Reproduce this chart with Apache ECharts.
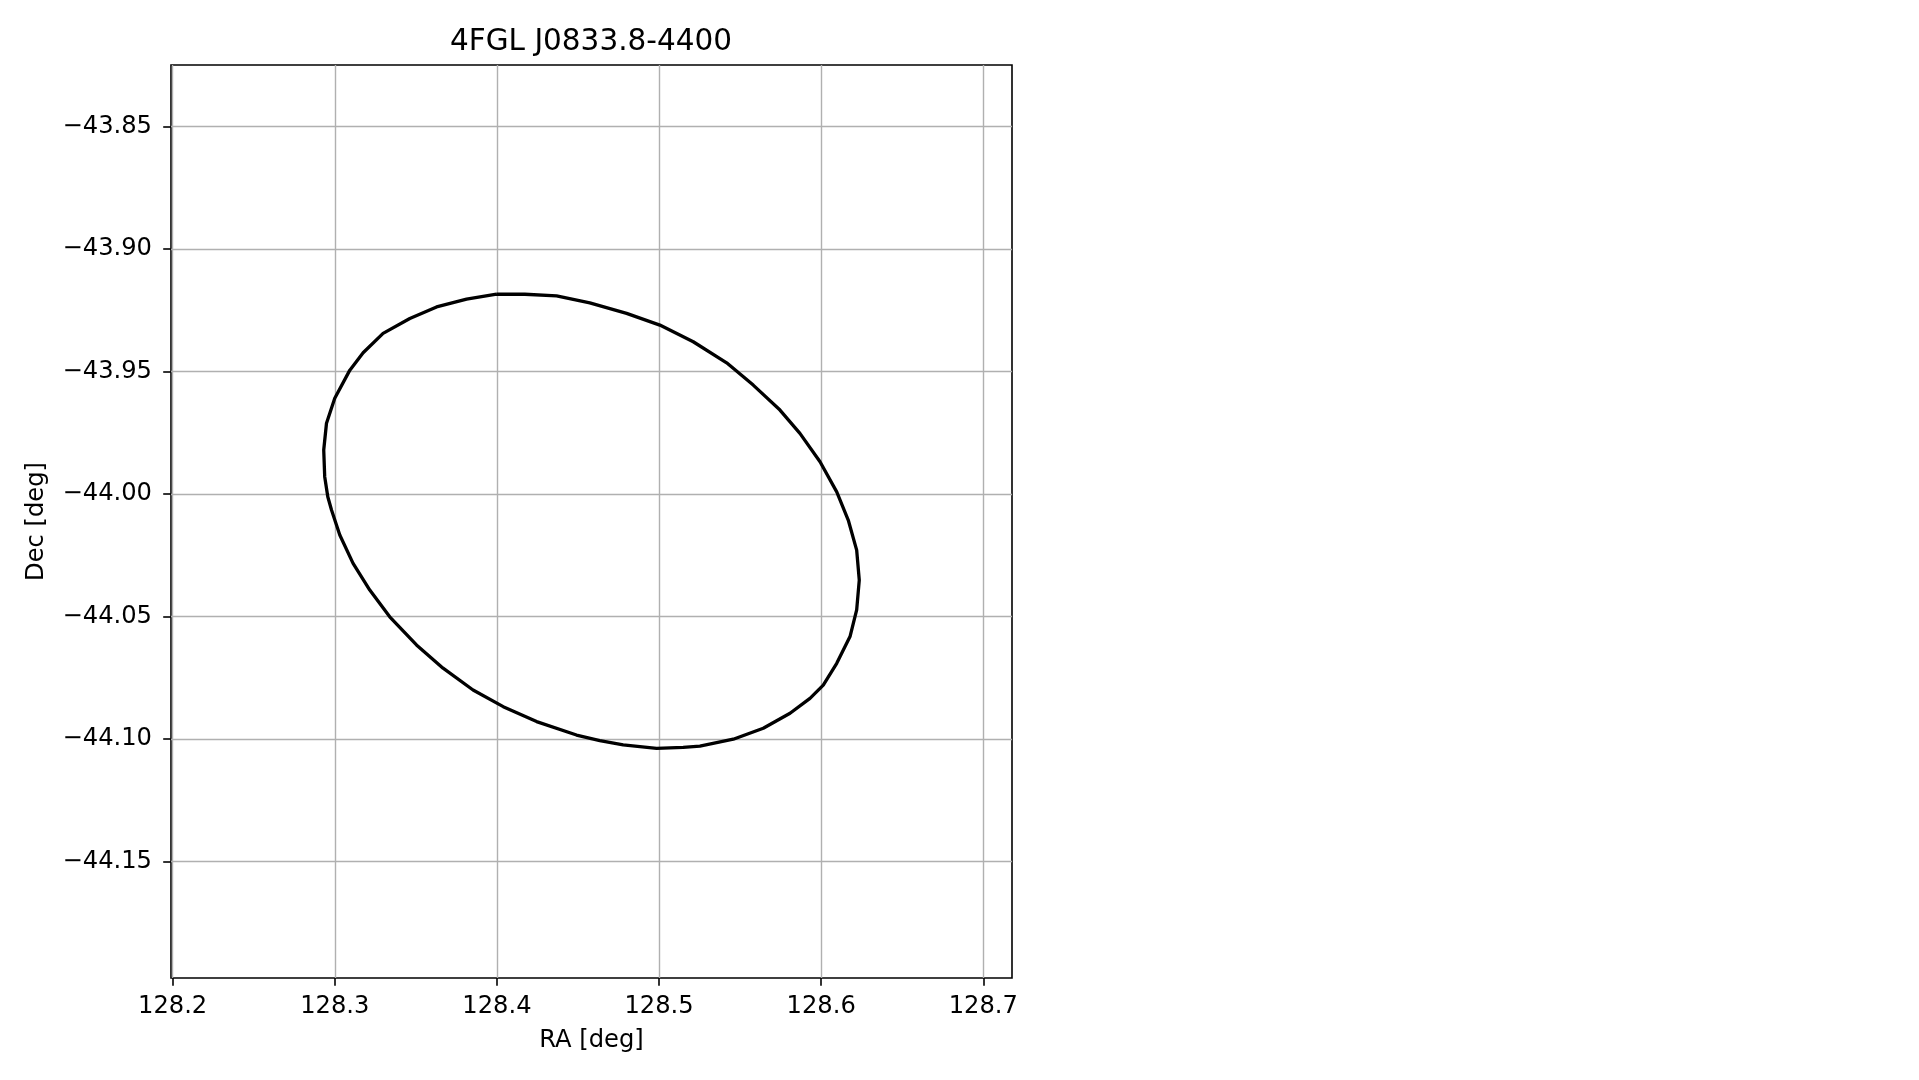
<!DOCTYPE html>
<html>
<head>
<meta charset="utf-8">
<script src="https://cdn.jsdelivr.net/npm/echarts@6/dist/echarts.min.js"></script>
<style>
html,body{margin:0;padding:0;background:#fff;}
#chart{width:1919px;height:1080px;}
</style>
</head>
<body>
<div id="chart"></div>
<script>
var chartTitle = '4FGL J0833.8-4400';
var xName = 'RA [deg]';
var yName = 'Dec [deg]';
var xTicks = [128.2, 128.3, 128.4, 128.5, 128.6, 128.7];
var yTicks = [-43.85, -43.90, -43.95, -44.00, -44.05, -44.10, -44.15];
var xRange = [128.1990, 128.7177];
var yRange = [-44.1976, -43.8248];

// error ellipse outline (RA, Dec)
var raVals = [128.3998, 128.4172, 128.4368, 128.4573, 128.4800, 128.5005, 128.5211, 128.5417,
  128.5581, 128.5746, 128.5869, 128.5993, 128.6096, 128.6167, 128.6219, 128.6235, 128.6219,
  128.6178, 128.6096, 128.6013, 128.5931, 128.5808, 128.5643, 128.5458, 128.5252, 128.5149,
  128.4985, 128.4779, 128.4635, 128.4491, 128.4245, 128.4039, 128.3853, 128.3668, 128.3504,
  128.3339, 128.3216, 128.3113, 128.3031, 128.2980, 128.2957, 128.2938, 128.2932, 128.2949,
  128.3000, 128.3093, 128.3175, 128.3298, 128.3463, 128.3628, 128.3813, 128.3998];
var decVals = [-43.9184, -43.9184, -43.9191, -43.9219, -43.9262, -43.9310, -43.9378, -43.9464,
  -43.9555, -43.9657, -43.9752, -43.9868, -43.9991, -44.0106, -44.0229, -44.0351, -44.0473,
  -44.0582, -44.0691, -44.0780, -44.0834, -44.0895, -44.0956, -44.1001, -44.1029, -44.1034,
  -44.1038, -44.1024, -44.1007, -44.0984, -44.0929, -44.0868, -44.0800, -44.0711, -44.0616,
  -44.0501, -44.0392, -44.0283, -44.0167, -44.0065, -44.0011, -43.9929, -43.9820, -43.9711,
  -43.9609, -43.9494, -43.9423, -43.9344, -43.9283, -43.9236, -43.9204, -43.9184];

var FONT = 'DejaVu Sans';
var pts = raVals.map(function (r, i) { return [r, decVals[i]]; });
function minus(s) { return s.replace('-', '\u2212'); }

var chart = echarts.init(document.getElementById('chart'), null, {renderer: 'canvas'});
chart.setOption({
  animation: false,
  backgroundColor: '#fff',
  title: {
    text: chartTitle,
    left: 586, top: 22, textAlign: 'center',
    textStyle: {fontFamily: FONT, fontSize: 29.5, fontWeight: 'normal', color: '#000'}
  },
  grid: {
    left: 171, top: 65, width: 841, height: 913,
    show: true, borderColor: '#000', borderWidth: 1.6, backgroundColor: 'transparent'
  },
  xAxis: {
    type: 'value', min: xRange[0], max: xRange[1],
    name: xName, nameLocation: 'middle', nameGap: 51,
    nameTextStyle: {fontFamily: FONT, fontSize: 24.2, color: '#000'},
    axisLine: {show: false},
    axisTick: {show: true, inside: false, length: 7.8, customValues: xTicks,
      lineStyle: {color: '#000', width: 1.6}},
    axisLabel: {show: true, margin: 17, customValues: xTicks,
      fontFamily: FONT, fontSize: 24.2, color: '#000',
      formatter: function (v) { return minus(v.toFixed(1)); }},
    splitLine: {show: true, lineStyle: {color: '#b0b0b0', width: 1.4}}
  },
  yAxis: {
    type: 'value', min: yRange[0], max: yRange[1],
    name: yName, nameLocation: 'middle', nameGap: 122, nameRotate: 90,
    nameTextStyle: {fontFamily: FONT, fontSize: 24.2, color: '#000'},
    axisLine: {show: false},
    axisTick: {show: true, inside: false, length: 7.8, customValues: yTicks,
      lineStyle: {color: '#000', width: 1.6}},
    axisLabel: {show: true, margin: 19, customValues: yTicks,
      fontFamily: FONT, fontSize: 24.2, color: '#000',
      formatter: function (v) { return minus(v.toFixed(2)); }},
    splitLine: {show: true, lineStyle: {color: '#b0b0b0', width: 1.4}}
  },
  series: [{
    type: 'line',
    data: pts,
    showSymbol: false,
    symbol: 'none',
    smooth: false,
    clip: true,
    lineStyle: {color: '#000', width: 3.3},
    z: 5
  }]
});
</script>
</body>
</html>
